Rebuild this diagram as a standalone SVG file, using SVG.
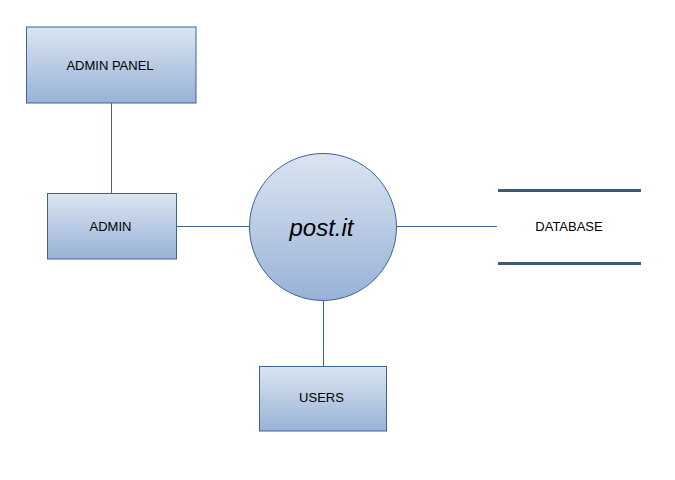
<svg xmlns="http://www.w3.org/2000/svg" width="675" height="480" viewBox="0 0 675 480">
<defs>
<linearGradient id="g" x1="0" y1="0" x2="0" y2="1">
<stop offset="0" stop-color="#dbe5f1"/>
<stop offset="1" stop-color="#98b2d6"/>
</linearGradient>
<style>
.n{fill:url(#g);stroke:#3d6399;stroke-width:1}
.t{font-family:"Liberation Sans",Arial,sans-serif;font-size:13px;fill:#000;text-anchor:middle;dominant-baseline:central}
.c{stroke:#3d6399;stroke-width:1;fill:none}
.db{stroke:#3c5a73;stroke-width:3}
</style>
</defs>
<rect width="675" height="480" fill="#fff"/>
<g id="connectors">
<line class="c" x1="111.5" y1="103" x2="111.5" y2="193"/>
<line class="c" x1="177" y1="226.5" x2="250" y2="226.5"/>
<line class="c" x1="397" y1="226.5" x2="497" y2="226.5"/>
<line class="c" x1="323.5" y1="300" x2="323.5" y2="366"/>
</g>
<g id="admin-panel">
<rect class="n" x="26.5" y="27" width="169.5" height="76"/>
<text class="t" x="110" y="65">ADMIN PANEL</text>
</g>
<g id="admin">
<rect class="n" x="47.5" y="193.5" width="129" height="65.5"/>
<text class="t" x="110.5" y="226">ADMIN</text>
</g>
<g id="post-it">
<circle class="n" cx="323" cy="227" r="73.5"/>
<text class="t" x="321.5" y="227" style="font-size:24px;font-style:italic">post.it</text>
</g>
<g id="database">
<line class="db" x1="498" y1="190.5" x2="641" y2="190.5"/>
<line class="db" x1="498" y1="263.5" x2="641" y2="263.5"/>
<text class="t" x="569" y="226">DATABASE</text>
</g>
<g id="users">
<rect class="n" x="259.5" y="366.5" width="127" height="64.5"/>
<text class="t" x="321.5" y="397">USERS</text>
</g>
</svg>
